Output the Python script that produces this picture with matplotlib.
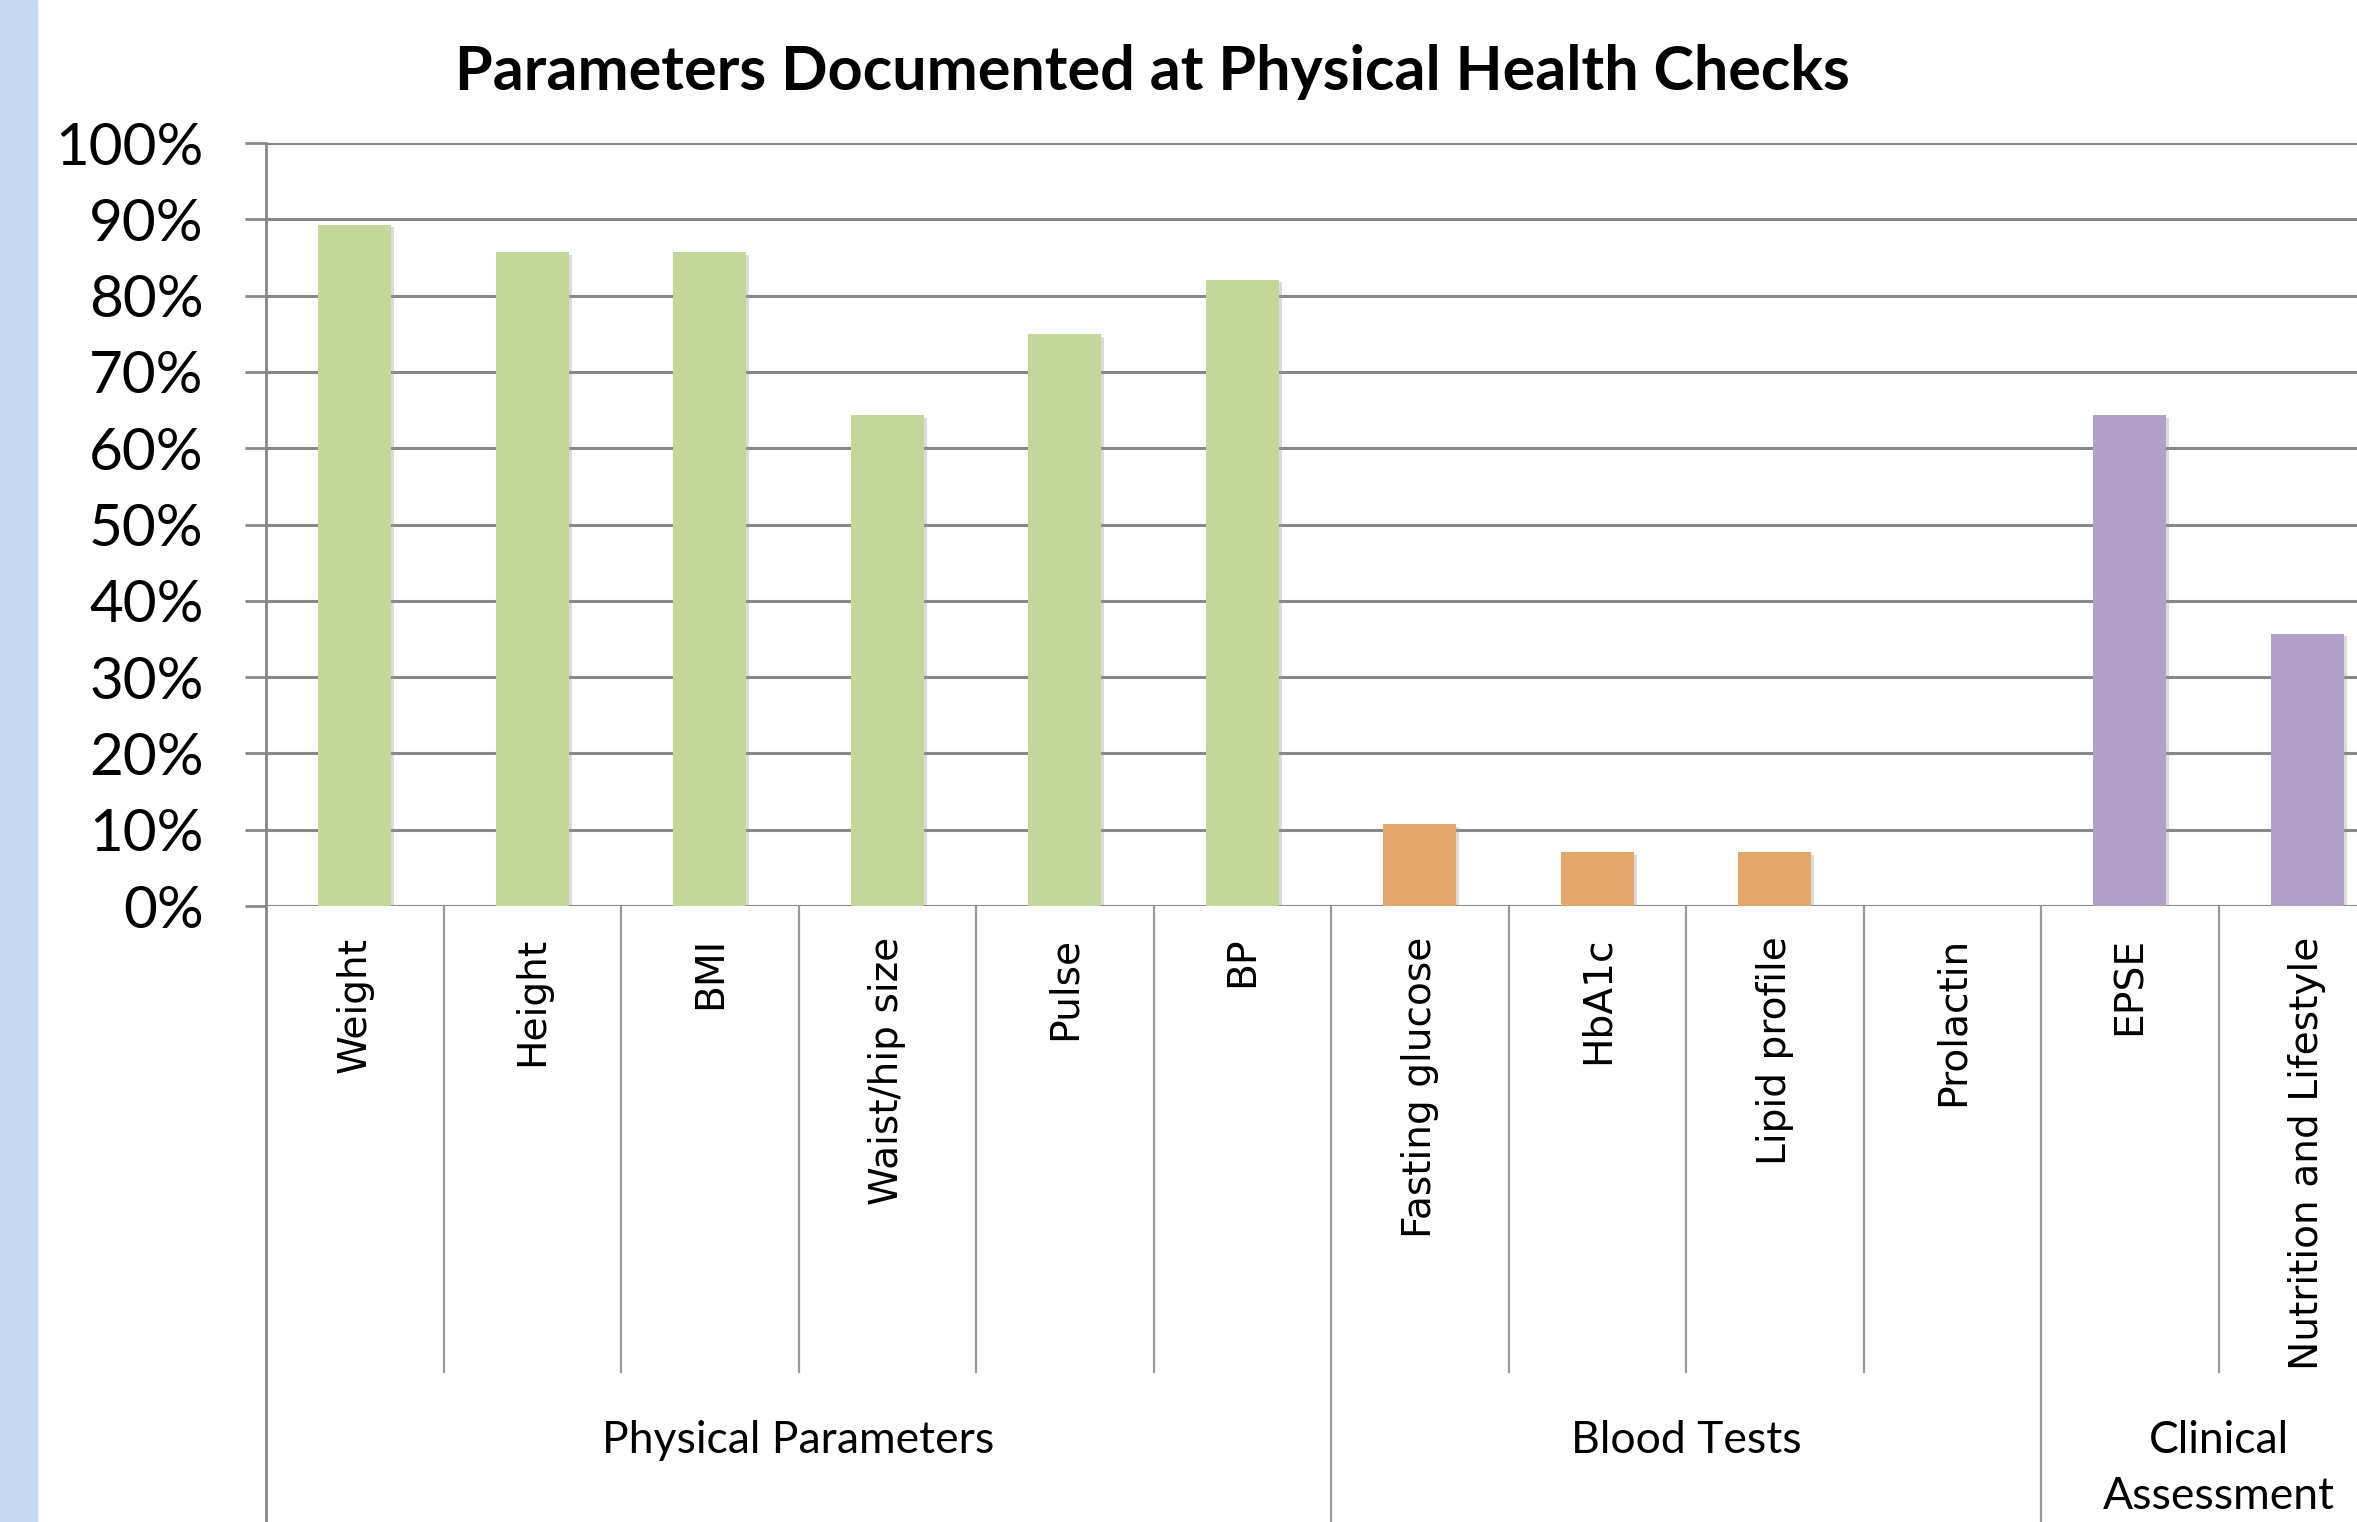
import matplotlib
matplotlib.use("Agg")
import matplotlib.pyplot as plt
import matplotlib.patheffects as pe
from matplotlib.patches import Rectangle
from matplotlib.transforms import blended_transform_factory

# données (% des bilans)
parametres = ["Weight", "Height", "BMI", "Waist/hip size", "Pulse", "BP",
              "Fasting glucose", "HbA1c", "Lipid profile", "Prolactin",
              "EPSE", "Nutrition and Lifestyle"]
valeurs = [89.3, 85.7, 85.7, 64.3, 75.0, 82.1,
           10.7, 7.1, 7.1, 0.0,
           64.3, 35.7]
groupes = ["Physical Parameters", "Blood Tests", "Clinical\nAssessment"]
taille_groupes = [6, 4, 2]
couleurs_groupes = ["#C4D79B", "#E3A66B", "#B1A0C7"]
yticks = [0, 10, 20, 30, 40, 50, 60, 70, 80, 90, 100]
ytick_labels = [f"{v}%" for v in yticks]

gris = "#888888"
police = "Lato"

fig = plt.figure(figsize=(23.57, 15.22), dpi=100)
fig.patches.append(Rectangle((0, 0), 0.0157, 1, transform=fig.transFigure,
                             color="#C6D9F1", zorder=0))

ax = fig.add_axes([0.1129, 0.4047, 0.9037, 0.5013])

# couleurs par barre selon le groupe
couleurs = []
for c, n in zip(couleurs_groupes, taille_groupes):
    couleurs += [c] * n

x = [i + 0.5 for i in range(len(parametres))]
ombre = [pe.SimplePatchShadow(offset=(2, -2), shadow_rgbFace="#999999", alpha=0.35), pe.Normal()]
barres = ax.bar(x, valeurs, width=0.41, color=couleurs, zorder=3)
for b in barres:
    b.set_path_effects(ombre)

ax.set_xlim(0, len(parametres))
ax.set_ylim(0, 100)
ax.set_yticks(yticks)
ax.set_yticklabels(ytick_labels, fontsize=42, family=police)
ax.set_xticks([])
ax.yaxis.grid(True, color=gris, lw=2.2, zorder=1)
ax.tick_params(axis="y", length=15, width=2, color=gris, pad=30)
for s in ax.spines.values():
    s.set_visible(False)

tr = blended_transform_factory(ax.transData, ax.transAxes)

# axe vertical + séparateurs sous l'axe
ax.plot([0, 0], [1, -0.81], color=gris, lw=2, transform=tr, clip_on=False)
bornes_groupes = [0]
for n in taille_groupes:
    bornes_groupes.append(bornes_groupes[-1] + n)
for k in range(1, len(parametres)):
    bas = -0.81 if k in bornes_groupes else -0.611
    ax.plot([k, k], [0, bas], color="#999999", lw=1.6, transform=tr, clip_on=False)

# étiquettes des catégories
for xi, nom in zip(x, parametres):
    ax.text(xi, -0.040, nom, rotation=90, ha="center", va="top",
            fontsize=28.2, family="DejaVu Sans", transform=tr)

# étiquettes des groupes
for g, a, b in zip(groupes, bornes_groupes[:-1], bornes_groupes[1:]):
    ax.text((a + b) / 2, -0.674, g, ha="center", va="top", fontsize=32,
            family=police, linespacing=1.45, transform=tr)

fig.text(0.489, 0.953, "Parameters Documented at Physical Health Checks",
         ha="center", va="center", fontsize=44, fontweight="bold", family=police)

fig.savefig("out.png", dpi=100)
